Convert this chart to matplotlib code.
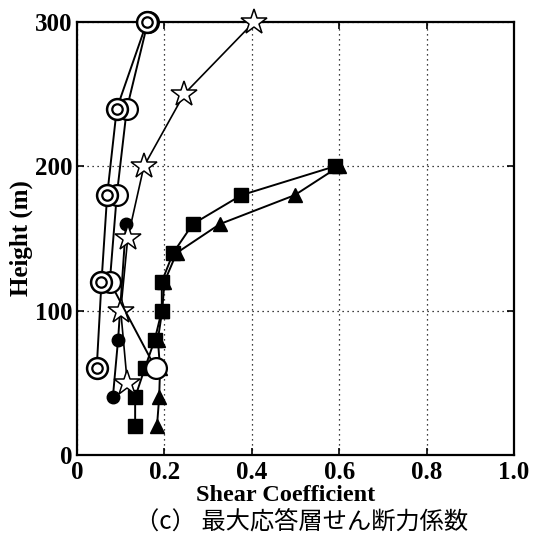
import matplotlib
matplotlib.use("Agg")
import matplotlib.pyplot as plt

# ---- data (shear coefficient, height m) ----
tri_h = [20, 40, 60, 80, 100, 120, 140, 160, 180, 200]
tri_x = [0.183, 0.188, 0.19, 0.185, 0.195, 0.20, 0.228, 0.327, 0.498, 0.60]

sq_h = [20, 40, 60, 80, 100, 120, 140, 160, 180, 200]
sq_x = [0.133, 0.133, 0.155, 0.178, 0.194, 0.194, 0.22, 0.265, 0.376, 0.59]

fc_h = [40, 80, 160]
fc_x = [0.082, 0.094, 0.112]

star_h = [50, 100, 150, 200, 250, 300]
star_x = [0.115, 0.10, 0.116, 0.153, 0.245, 0.405]

oc_h = [60, 120, 180, 240, 300]
oc_x = [0.18, 0.075, 0.091, 0.114, 0.162]

dc_h = [60, 120, 180, 240, 300]
dc_x = [0.045, 0.056, 0.069, 0.091, 0.16]

xticks = [0, 0.2, 0.4, 0.6, 0.8, 1.0]
xticklabels = ["0", "0.2", "0.4", "0.6", "0.8", "1.0"]
yticks = [0, 100, 200, 300]
yticklabels = ["0", "100", "200", "300"]

xlabel = "Shear Coefficient"
ylabel = "Height (m)"
caption = "（c） 最大応答層せん断力係数"

serif = "Liberation Serif"

fig = plt.figure(figsize=(5.39, 5.47), dpi=100)
ax = fig.add_axes([0.1429, 0.1682, 0.8107, 0.7916])

lw = 1.4
ax.plot(tri_x, tri_h, color="black", lw=lw, marker="^", ms=10, mfc="black",
        mec="black", zorder=3, clip_on=False)
ax.plot(sq_x, sq_h, color="black", lw=lw, marker="s", ms=10, mfc="black",
        mec="black", zorder=4, clip_on=False)
ax.plot(fc_x, fc_h, color="black", lw=lw, marker="o", ms=9, mfc="black",
        mec="black", zorder=5, clip_on=False)
ax.plot(star_x, star_h, color="black", lw=1.2, marker="*", ms=19, mfc="white",
        mec="black", mew=1.1, zorder=6, clip_on=False)
ax.plot(oc_x, oc_h, color="black", lw=lw, marker="o", ms=15, mfc="white",
        mec="black", mew=1.6, zorder=7, clip_on=False)
ax.plot(dc_x, dc_h, color="black", lw=lw, marker="o", ms=15, mfc="white",
        mec="black", mew=1.8, zorder=8, clip_on=False)
ax.plot(dc_x, dc_h, ls="none", marker="o", ms=7.5, mfc="white",
        mec="black", mew=1.6, zorder=9, clip_on=False)

ax.set_xlim(0, 1.0)
ax.set_ylim(0, 300)
ax.set_xticks(xticks)
ax.set_xticklabels(xticklabels)
ax.set_yticks(yticks)
ax.set_yticklabels(yticklabels)
ax.grid(True, ls=(0, (1, 3)), color="black", lw=0.9)
ax.tick_params(direction="in", length=5, width=1.2, top=True, right=True,
               labelsize=18, pad=3)
ax.tick_params(axis="x", pad=4)
for lab in ax.get_xticklabels() + ax.get_yticklabels():
    lab.set_fontfamily(serif)
    lab.set_fontweight("bold")
for s in ax.spines.values():
    s.set_linewidth(1.6)

ax.set_xlabel(xlabel, fontfamily=serif, fontweight="bold", fontsize=17.5,
              labelpad=0)
ax.xaxis.set_label_coords(0.478, -0.093, transform=ax.transAxes)
ax.xaxis.label.set_va("center")
ax.set_ylabel(ylabel, fontfamily=serif, fontweight="bold", fontsize=18,
              labelpad=2)

fig.text(0.56, 0.046, caption, ha="center", va="center", fontsize=17.5,
         family=["Noto Sans CJK JP", "DejaVu Sans"])

fig.savefig("out.png", dpi=100)
